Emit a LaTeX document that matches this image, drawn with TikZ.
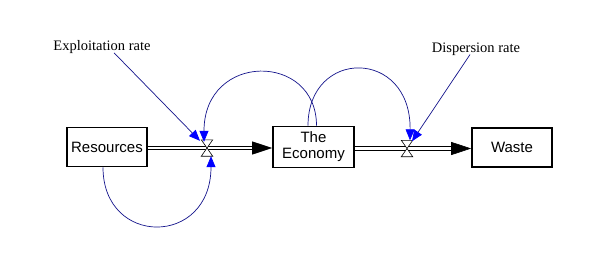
\documentclass[tikz,border=0pt]{standalone}
\usepackage{fontspec}
\setmainfont{Liberation Serif}
\newfontfamily\boxfont{Liberation Sans}
\usetikzlibrary{arrows.meta,calc}
\definecolor{linkblue}{RGB}{20,20,140}
\definecolor{headblue}{RGB}{0,0,255}
\begin{document}
\begin{tikzpicture}[x=1pt,y=-1pt,
  stock/.style={draw=black,line width=1.6pt,fill=white,minimum width=80pt,minimum height=39pt,inner sep=1pt,
    font=\boxfont\fontsize{15}{16}\selectfont,align=center},
  valve/.style={minimum width=11pt,minimum height=16pt,inner sep=0pt},
  pipe/.style={draw=black,line width=0.9pt,double=white,double distance=2.6pt},
  pipehead/.style={-{Triangle[length=20pt,width=13pt]},line width=0.6pt},
  link/.style={draw=linkblue,line width=0.7pt,-{Triangle[length=11pt,width=9pt,fill=headblue,color=headblue]}},
  ratelabel/.style={font=\fontsize{14.5}{16}\selectfont,inner sep=1pt}]
\useasboundingbox (0,0) rectangle (594,263);
\fill[white] (0,0) rectangle (594,263);

\node[stock] (res) at (107,147) {Resources};
\node[stock,minimum width=81pt,minimum height=41pt] (eco) at (313.5,147) {The\\Economy};
\node[stock] (waste) at (512,147.5) {Waste};

\node[valve] (v1) at (207,148) {};
\node[valve] (v2) at (407,148.5) {};

\node[ratelabel] (expl) at (102,47) {Exploitation rate};
\node[ratelabel] (disp) at (476,49) {Dispersion rate};

% pipes
\draw[pipe] (res.east |- v1) -- ([xshift=-19pt]eco.west |- v1);
\draw[pipehead] ([xshift=-20pt]eco.west |- v1) -- (eco.west |- v1);
\draw[pipe] (eco.east |- v2) -- ([xshift=-19pt]waste.west |- v2);
\draw[pipehead] ([xshift=-20pt]waste.west |- v2) -- (waste.west |- v2);

% valves
\foreach \v in {v1,v2}{
  \filldraw[fill=white,draw=black,line width=0.6pt]
    (\v.north west) -- (\v.north east) -- (\v.south west) -- (\v.south east) -- cycle;
}

% info links
\draw[link] ([xshift=3pt]eco.north) .. controls (316.5,52) and (204,52) .. ([xshift=-3pt,yshift=-2pt]v1.north);
\draw[link] ([xshift=-5.5pt]eco.north) .. controls (308,48) and (411,48) .. ([xshift=3pt]v2.north);
\draw[link] ([xshift=-4pt]res.south) .. controls (103,247) and (211,247) .. ([xshift=4pt]v1.south);
\draw[link] ([xshift=12pt,yshift=2pt]expl.south) -- ([xshift=-7pt,yshift=-1pt]v1.north);
\draw[link] ([xshift=-6pt,yshift=2pt]disp.south) -- ([xshift=5pt,yshift=-1pt]v2.north);
\end{tikzpicture}
\end{document}
